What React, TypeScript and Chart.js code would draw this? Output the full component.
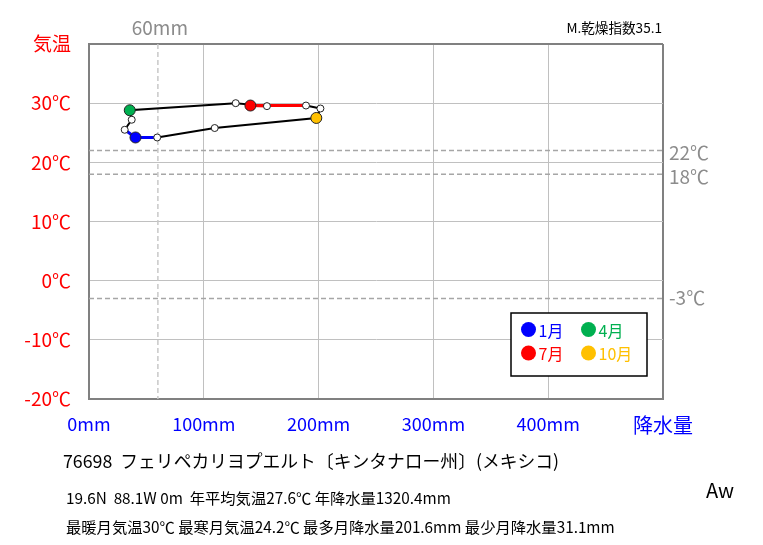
import React, { useEffect, useRef } from "react";
import { Chart, registerables } from "chart.js";

Chart.register(...registerables);

const FONT = '"Noto Sans CJK JP", "Noto Sans", sans-serif';

const MONTHS = ["1月", "2月", "3月", "4月", "5月", "6月", "7月", "8月", "9月", "10月", "11月", "12月"];
const PRECIP = [40.5, 31.1, 37.2, 35.5, 127.8, 155, 140.6, 189, 201.6, 198, 109.5, 59.4];
const TEMP = [24.2, 25.5, 27.2, 28.8, 30.0, 29.5, 29.6, 29.6, 29.1, 27.5, 25.8, 24.2];

const X_TICKS = [0, 100, 200, 300, 400, 500];
const X_TICK_LABELS = ["0mm", "100mm", "200mm", "300mm", "400mm", "降水量"];
const Y_TICKS = [-20, -10, 0, 10, 20, 30, 40];
const Y_TICK_LABELS = ["-20℃", "-10℃", "0℃", "10℃", "20℃", "30℃", "気温"];

const TEMP_REF_LINES = [22, 18, -3];
const TEMP_REF_LABELS = ["22℃", "18℃", "-3℃"];
const DRY_LINE_MM = 60;
const DRY_LINE_LABEL = "60mm";

const LEGEND_MONTHS = [0, 3, 6, 9];
const LEGEND_COLORS = ["#0000FF", "#00B050", "#FF0000", "#FFC000"];
const LINE_HIGHLIGHT_MONTHS = [0, 6];

const TITLE_RIGHT = "M.乾燥指数35.1";
const STATION = "76698  フェリペカリヨプエルト〔キンタナロー州〕(メキシコ)";
const INFO1 = "19.6N  88.1W 0m  年平均気温27.6℃ 年降水量1320.4mm";
const INFO2 = "最暖月気温30℃ 最寒月気温24.2℃ 最多月降水量201.6mm 最少月降水量31.1mm";
const CLIMATE = "Aw";

function monthColor(i: number): string | null {
  const k = LEGEND_MONTHS.indexOf(i % 12);
  return k >= 0 ? LEGEND_COLORS[k] : null;
}

function segColor(p0: number, p1: number): string | null {
  for (const m of LINE_HIGHLIGHT_MONTHS) {
    if (p0 % 12 === m || p1 % 12 === m) return monthColor(m);
  }
  return null;
}

const REF_LABEL_NUDGE = [2, 3, -1];

const overlayPlugin = {
  id: "overlay",
  beforeDatasetsDraw(chart: any) {
    const ctx = chart.ctx;
    const { left, right, top, bottom } = chart.chartArea;
    const xs = chart.scales.x;
    const ys = chart.scales.y;
    ctx.save();
    ctx.strokeStyle = "#A6A6A6";
    ctx.lineWidth = 1.5;
    ctx.setLineDash([5, 3]);
    TEMP_REF_LINES.forEach((t) => {
      const y = ys.getPixelForValue(t);
      ctx.beginPath();
      ctx.moveTo(left, y);
      ctx.lineTo(right, y);
      ctx.stroke();
    });
    const x60 = xs.getPixelForValue(DRY_LINE_MM);
    ctx.strokeStyle = "#C8C8C8";
    ctx.beginPath();
    ctx.moveTo(x60, top);
    ctx.lineTo(x60, bottom);
    ctx.stroke();
    ctx.restore();
  },
  afterDraw(chart: any) {
    const ctx = chart.ctx;
    const { right, top, bottom } = chart.chartArea;
    const xs = chart.scales.x;
    const ys = chart.scales.y;
    ctx.save();
    ctx.textBaseline = "middle";
    ctx.fillStyle = "#8C8C8C";
    ctx.font = `19px ${FONT}`;
    ctx.textAlign = "left";
    TEMP_REF_LINES.forEach((t, i) => {
      ctx.fillText(TEMP_REF_LABELS[i], right + 6, ys.getPixelForValue(t) + REF_LABEL_NUDGE[i]);
    });
    ctx.textAlign = "center";
    ctx.fillText(DRY_LINE_LABEL, xs.getPixelForValue(DRY_LINE_MM) + 2, top - 16);
    ctx.fillStyle = "#000000";
    ctx.font = `13.6px ${FONT}`;
    ctx.textAlign = "right";
    ctx.fillText(TITLE_RIGHT, right - 1, top - 16);
    const lw = 136, lh = 63;
    const lx = right - 16 - lw;
    const ly = bottom - 23 - lh;
    ctx.fillStyle = "#FFFFFF";
    ctx.fillRect(lx, ly, lw, lh);
    ctx.strokeStyle = "#000000";
    ctx.lineWidth = 1.5;
    ctx.strokeRect(lx, ly, lw, lh);
    ctx.font = `16px ${FONT}`;
    ctx.textAlign = "left";
    LEGEND_MONTHS.forEach((m, i) => {
      const col = i % 2, row = Math.floor(i / 2);
      const cx = lx + 17.5 + col * 60;
      const cy = ly + 16.5 + row * 23.5;
      ctx.fillStyle = LEGEND_COLORS[i];
      ctx.beginPath();
      ctx.arc(cx, cy, 7.5, 0, Math.PI * 2);
      ctx.fill();
      ctx.fillText(MONTHS[m], cx + 10, cy + 1);
    });
    ctx.fillStyle = "#000000";
    ctx.textAlign = "left";
    ctx.font = `17.8px ${FONT}`;
    ctx.fillText(STATION, 63, 461);
    ctx.font = `15.3px ${FONT}`;
    ctx.fillText(INFO1, 66, 498);
    ctx.fillText(INFO2, 66, 527);
    ctx.font = `20px ${FONT}`;
    ctx.fillText(CLIMATE, 706, 490);
    ctx.restore();
  },
};

export default function App() {
  const ref = useRef<HTMLCanvasElement | null>(null);
  useEffect(() => {
    if (!ref.current) return;
    const pts = PRECIP.map((p, i) => ({ x: p, y: TEMP[i] }));
    pts.push({ x: PRECIP[0], y: TEMP[0] });
    const n = pts.length;
    const chart = new Chart(ref.current, {
      type: "scatter",
      data: {
        datasets: [
          {
            data: pts,
            showLine: true,
            borderColor: "#000000",
            borderWidth: 2,
            pointRadius: pts.map((_, i) => (i === n - 1 ? 0 : monthColor(i) ? 5.5 : 3.5)),
            pointBackgroundColor: pts.map((_, i) => monthColor(i) || "#FFFFFF"),
            pointBorderColor: "#222222",
            pointBorderWidth: 1,
            segment: {
              borderColor: (c: any) => segColor(c.p0DataIndex, c.p1DataIndex) || "#000000",
              borderWidth: (c: any) => (segColor(c.p0DataIndex, c.p1DataIndex) ? 3 : 2),
            },
          } as any,
        ],
      },
      options: {
        responsive: false,
        animation: false,
        devicePixelRatio: 1,
        layout: { padding: { left: 0, top: 44, right: 100, bottom: 0 } },
        plugins: { legend: { display: false }, tooltip: { enabled: false } },
        scales: {
          x: {
            type: "linear",
            min: 0,
            max: 500,
            afterBuildTicks: (s: any) => {
              s.ticks = X_TICKS.map((v) => ({ value: v }));
            },
            afterFit: (s: any) => {
              s.height = 146;
            },
            grid: {
              color: (c: any) => (c.tick && c.tick.value === 500 ? "#808080" : "#C0C0C0"),
              lineWidth: (c: any) => (c.tick && c.tick.value === 500 ? 2 : 1),
              drawTicks: false,
            },
            border: { color: "#808080", width: 2 },
            ticks: {
              color: "#0000FF",
              padding: 14,
              autoSkip: false,
              maxRotation: 0,
              font: (c: any) => ({ family: FONT, size: c.tick && c.tick.value === 500 ? 20 : 18 }),
              callback: (v: any) => X_TICK_LABELS[X_TICKS.indexOf(Number(v))],
            },
          },
          y: {
            type: "linear",
            min: -20,
            max: 40,
            afterBuildTicks: (s: any) => {
              s.ticks = Y_TICKS.map((v) => ({ value: v }));
            },
            afterFit: (s: any) => {
              s.width = 89;
            },
            grid: {
              color: (c: any) => (c.tick && c.tick.value === 40 ? "#808080" : "#C0C0C0"),
              lineWidth: (c: any) => (c.tick && c.tick.value === 40 ? 2 : 1),
              drawTicks: false,
            },
            border: { color: "#808080", width: 2 },
            ticks: {
              color: "#FF0000",
              padding: 18,
              autoSkip: false,
              font: { family: FONT, size: 19 },
              callback: (v: any) => Y_TICK_LABELS[Y_TICKS.indexOf(Number(v))],
            },
          },
        },
      },
      plugins: [overlayPlugin],
    });
    return () => chart.destroy();
  }, []);
  return (
    <div style={{ position: "absolute", left: 0, top: 0, width: 763, height: 545, background: "#FFFFFF" }}>
      <canvas ref={ref} width={763} height={545} style={{ display: "block" }} />
    </div>
  );
}
